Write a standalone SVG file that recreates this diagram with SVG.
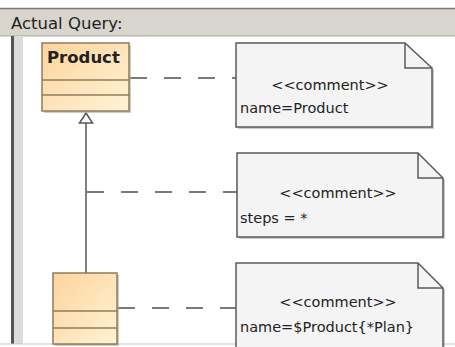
<svg xmlns="http://www.w3.org/2000/svg" width="455" height="347" viewBox="0 0 455 347">
<style>
.t{font-family:"DejaVu Sans",Verdana,sans-serif;fill:#222}
.note{fill:#f4f4f4;stroke:#5a5a5a;stroke-width:1.5}
.cls{fill:url(#g);stroke:#8f7c5c;stroke-width:1.5}
.dash{stroke:#7a7a7a;stroke-width:2;stroke-dasharray:17 17;fill:none}
</style>
<defs>
<linearGradient id="g" x1="0" y1="0" x2="1" y2="1">
<stop offset="0" stop-color="#fdd39c"/>
<stop offset="1" stop-color="#fff4d6"/>
</linearGradient>
</defs>
<rect x="0" y="0" width="455" height="347" fill="#fff"/>
<rect x="0" y="8" width="455" height="28" fill="#d8d5cf"/>
<line x1="0" y1="8.5" x2="455" y2="8.5" stroke="#7a7a7a" stroke-width="1.5"/>
<line x1="0" y1="36" x2="455" y2="36" stroke="#a8a6a0" stroke-width="1"/>
<text class="t" x="11" y="29" font-size="16.5">Actual Query:</text>
<rect x="11" y="36" width="3" height="308" fill="#555"/>
<rect x="14" y="36" width="9" height="308" fill="#dcdcdc"/>
<line x1="0" y1="344" x2="455" y2="344" stroke="#c8c8c8" stroke-width="1"/>
<g id="connectors">
<path class="dash" d="M130 78 H236"/>
<path class="dash" d="M87 192 H237"/>
<path class="dash" d="M118 308 H236"/>
<line x1="86" y1="123" x2="86" y2="273" stroke="#555" stroke-width="1.5"/>
<polygon points="86,113 79.5,123 92.5,123" fill="#fff" stroke="#555" stroke-width="1.5"/>
</g>
<g id="product">
<rect x="44" y="45" width="87" height="68" fill="#b0a898" opacity="0.6"/>
<rect class="cls" x="42" y="43" width="87" height="68"/>
<line x1="42" y1="80" x2="129" y2="80" stroke="#8f7c5c" stroke-width="1.5"/>
<line x1="42" y1="95" x2="129" y2="95" stroke="#8f7c5c" stroke-width="1.5"/>
<text class="t" x="47" y="63" font-size="16.5" font-weight="bold">Product</text>
</g>
<g id="subclass">
<rect x="55" y="275" width="64" height="71" fill="#b0a898" opacity="0.6"/>
<rect class="cls" x="53" y="273" width="64" height="71"/>
<line x1="53" y1="311" x2="117" y2="311" stroke="#8f7c5c" stroke-width="1.5"/>
<line x1="53" y1="328" x2="117" y2="328" stroke="#8f7c5c" stroke-width="1.5"/>
</g>
<g id="note1">
<path d="M238 45 H407 L434 70 V129 H238 Z" fill="#9a9a9a" opacity="0.5"/>
<path class="note" d="M236 43 H405 L432 68 V127 H236 Z"/>
<path d="M405 43 V68 H432" fill="none" stroke="#5a5a5a" stroke-width="1.5"/>
<text class="t" x="330" y="90" font-size="14.5" text-anchor="middle">&lt;&lt;comment&gt;&gt;</text>
<text class="t" x="240" y="113" font-size="14.5">name=Product</text>
</g>
<g id="note2">
<path d="M239 155 H420 L445 180 V239 H239 Z" fill="#9a9a9a" opacity="0.5"/>
<path class="note" d="M237 153 H418 L443 178 V237 H237 Z"/>
<path d="M418 153 V178 H443" fill="none" stroke="#5a5a5a" stroke-width="1.5"/>
<text class="t" x="338" y="198" font-size="14.5" text-anchor="middle">&lt;&lt;comment&gt;&gt;</text>
<text class="t" x="240" y="223" font-size="14.5">steps = *</text>
</g>
<g id="note3">
<path d="M238 265 H420 L445 290 V347 H238 Z" fill="#9a9a9a" opacity="0.5"/>
<path class="note" d="M236 263 H418 L443 288 V350 H236 Z"/>
<path d="M418 263 V288 H443" fill="none" stroke="#5a5a5a" stroke-width="1.5"/>
<text class="t" x="338" y="307" font-size="14.5" text-anchor="middle">&lt;&lt;comment&gt;&gt;</text>
<text class="t" x="240" y="332" font-size="14.5">name=$Product{*Plan}</text>
</g>
</svg>
